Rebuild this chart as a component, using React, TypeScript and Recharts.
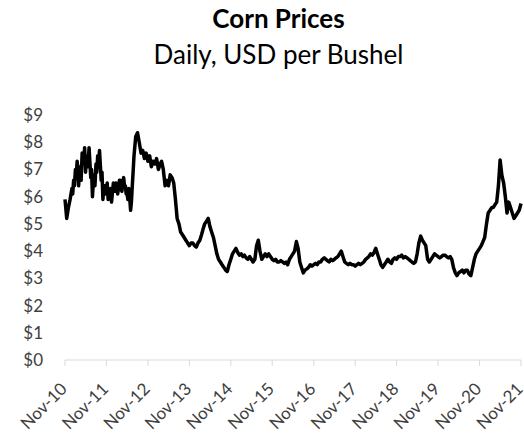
import React from "react";
import { LineChart, Line, XAxis, YAxis } from "recharts";

// readings: weekly through the choppy 2011–mid 2012 stretch, semi-monthly elsewhere
const dates = [
  "2010-11-01", "2010-11-16", "2010-12-01", "2010-12-16",
  "2011-01-01", "2011-01-08", "2011-01-16", "2011-01-23", "2011-02-01", "2011-02-08", "2011-02-16", "2011-02-23",
  "2011-03-01", "2011-03-08", "2011-03-16", "2011-03-23", "2011-04-01", "2011-04-08", "2011-04-16", "2011-04-23",
  "2011-05-01", "2011-05-08", "2011-05-16", "2011-05-23", "2011-06-01", "2011-06-08", "2011-06-16", "2011-06-23",
  "2011-07-01", "2011-07-08", "2011-07-16", "2011-07-23", "2011-08-01", "2011-08-08", "2011-08-16", "2011-08-23",
  "2011-09-01", "2011-09-08", "2011-09-16", "2011-09-23", "2011-10-01", "2011-10-08", "2011-10-16", "2011-10-23",
  "2011-11-01", "2011-11-08", "2011-11-16", "2011-11-23", "2011-12-01", "2011-12-08", "2011-12-16", "2011-12-23",
  "2012-01-01", "2012-01-08", "2012-01-16", "2012-01-23", "2012-02-01", "2012-02-08", "2012-02-16", "2012-02-23",
  "2012-03-01", "2012-03-08", "2012-03-16", "2012-03-23", "2012-04-01", "2012-04-08", "2012-04-16", "2012-04-23",
  "2012-05-01", "2012-05-08", "2012-05-16", "2012-05-23", "2012-06-01", "2012-06-08", "2012-06-16", "2012-06-23",
  "2012-07-01", "2012-07-16", "2012-08-01", "2012-08-16",
  "2012-09-01", "2012-09-16", "2012-10-01", "2012-10-16", "2012-11-01", "2012-11-16", "2012-12-01", "2012-12-16",
  "2013-01-01", "2013-01-16", "2013-02-01", "2013-02-16", "2013-03-01", "2013-03-16", "2013-04-01", "2013-04-16",
  "2013-05-01", "2013-05-16", "2013-06-01", "2013-06-16", "2013-07-01", "2013-07-16", "2013-08-01", "2013-08-16",
  "2013-09-01", "2013-09-16", "2013-10-01", "2013-10-16", "2013-11-01", "2013-11-16", "2013-12-01", "2013-12-16",
  "2014-01-01", "2014-01-16", "2014-02-01", "2014-02-16", "2014-03-01", "2014-03-16", "2014-04-01", "2014-04-16",
  "2014-05-01", "2014-05-16", "2014-06-01", "2014-06-16", "2014-07-01", "2014-07-16", "2014-08-01", "2014-08-16",
  "2014-09-01", "2014-09-16", "2014-10-01", "2014-10-16", "2014-11-01", "2014-11-16", "2014-12-01", "2014-12-16",
  "2015-01-01", "2015-01-16", "2015-02-01", "2015-02-16", "2015-03-01", "2015-03-16", "2015-04-01", "2015-04-16",
  "2015-05-01", "2015-05-16", "2015-06-01", "2015-06-16", "2015-07-01", "2015-07-16", "2015-08-01", "2015-08-16",
  "2015-09-01", "2015-09-16", "2015-10-01", "2015-10-16", "2015-11-01", "2015-11-16", "2015-12-01", "2015-12-16",
  "2016-01-01", "2016-01-16", "2016-02-01", "2016-02-16", "2016-03-01", "2016-03-16", "2016-04-01", "2016-04-16",
  "2016-05-01", "2016-05-16", "2016-06-01", "2016-06-16", "2016-07-01", "2016-07-16", "2016-08-01", "2016-08-16",
  "2016-09-01", "2016-09-16", "2016-10-01", "2016-10-16", "2016-11-01", "2016-11-16", "2016-12-01", "2016-12-16",
  "2017-01-01", "2017-01-16", "2017-02-01", "2017-02-16", "2017-03-01", "2017-03-16", "2017-04-01", "2017-04-16",
  "2017-05-01", "2017-05-16", "2017-06-01", "2017-06-16", "2017-07-01", "2017-07-16", "2017-08-01", "2017-08-16",
  "2017-09-01", "2017-09-16", "2017-10-01", "2017-10-16", "2017-11-01", "2017-11-16", "2017-12-01", "2017-12-16",
  "2018-01-01", "2018-01-16", "2018-02-01", "2018-02-16", "2018-03-01", "2018-03-16", "2018-04-01", "2018-04-16",
  "2018-05-01", "2018-05-16", "2018-06-01", "2018-06-16", "2018-07-01", "2018-07-16", "2018-08-01", "2018-08-16",
  "2018-09-01", "2018-09-16", "2018-10-01", "2018-10-16", "2018-11-01", "2018-11-16", "2018-12-01", "2018-12-16",
  "2019-01-01", "2019-01-16", "2019-02-01", "2019-02-16", "2019-03-01", "2019-03-16", "2019-04-01", "2019-04-16",
  "2019-05-01", "2019-05-16", "2019-06-01", "2019-06-16", "2019-07-01", "2019-07-16", "2019-08-01", "2019-08-16",
  "2019-09-01", "2019-09-16", "2019-10-01", "2019-10-16", "2019-11-01", "2019-11-16", "2019-12-01", "2019-12-16",
  "2020-01-01", "2020-01-16", "2020-02-01", "2020-02-16", "2020-03-01", "2020-03-16", "2020-04-01", "2020-04-16",
  "2020-05-01", "2020-05-16", "2020-06-01", "2020-06-16", "2020-07-01", "2020-07-16", "2020-08-01", "2020-08-16",
  "2020-09-01", "2020-09-16", "2020-10-01", "2020-10-16", "2020-11-01", "2020-11-16", "2020-12-01", "2020-12-16",
  "2021-01-01", "2021-01-16", "2021-02-01", "2021-02-16", "2021-03-01", "2021-03-16", "2021-04-01", "2021-04-16",
  "2021-05-01", "2021-05-16", "2021-06-01", "2021-06-16", "2021-07-01", "2021-07-16", "2021-08-01", "2021-08-16",
  "2021-09-01", "2021-09-16", "2021-10-01", "2021-10-16", "2021-11-01",
];

const prices = [
  5.9, 5.2, 5.6, 5.9,
  6.3, 6.1, 6.6, 6.4, 7.0, 6.8, 7.3, 7.0,
  6.4, 6.9, 7.1, 6.6, 7.6, 7.2, 7.3, 7.8,
  6.9, 7.4, 7.5, 7.1, 7.8, 7.3, 6.7, 7.0,
  6.0, 6.5, 6.8, 6.4, 7.2, 6.9, 7.5, 7.1,
  7.7, 7.2, 6.6, 6.9, 5.9, 6.3, 6.4, 6.1,
  6.3, 6.5, 5.9, 6.2, 6.0, 6.3, 5.8, 6.1,
  6.5, 6.2, 6.2, 6.5, 6.4, 6.1, 6.3, 6.6,
  6.6, 6.3, 6.2, 6.5, 6.7, 6.4, 6.4, 6.1,
  6.1, 5.9, 6.3, 6.0, 5.5, 5.8, 6.4, 6.9,
  7.5, 8.2, 8.35, 8.0,
  7.6, 7.7, 7.4, 7.6, 7.3, 7.5, 7.1, 7.3,
  7.2, 7.4, 7.0, 7.2, 7.3, 7.0, 6.4, 6.6, 6.4, 6.8, 6.7, 6.5, 5.9, 5.2, 5.0, 4.7, 4.6, 4.5, 4.4, 4.3, 4.2, 4.3, 4.3, 4.2,
  4.15, 4.3, 4.4, 4.6, 4.8, 5.0, 5.1, 5.2, 4.9, 4.7, 4.5, 4.2, 3.9, 3.7, 3.6, 3.5, 3.4, 3.3, 3.25, 3.5, 3.7, 3.9, 4.0, 4.1,
  3.95, 3.85, 3.9, 3.8, 3.85, 3.75, 3.7, 3.8, 3.7, 3.6, 3.7, 4.2, 4.4, 4.0, 3.7, 3.8, 3.9, 3.8, 3.9, 3.8, 3.7, 3.65, 3.7, 3.6,
  3.6, 3.65, 3.6, 3.55, 3.6, 3.5, 3.7, 3.8, 3.9, 4.0, 4.35, 4.1, 3.6, 3.4, 3.2, 3.3, 3.35, 3.4, 3.5, 3.45, 3.5, 3.55, 3.5, 3.6,
  3.6, 3.7, 3.75, 3.7, 3.65, 3.6, 3.7, 3.65, 3.7, 3.75, 3.8, 3.9, 4.0, 3.8, 3.6, 3.55, 3.5, 3.55, 3.5, 3.5, 3.45, 3.5, 3.55, 3.5,
  3.55, 3.6, 3.7, 3.75, 3.8, 3.9, 3.85, 3.95, 4.1, 3.9, 3.7, 3.5, 3.4, 3.5, 3.6, 3.7, 3.6, 3.55, 3.7, 3.75, 3.7, 3.8, 3.8, 3.85,
  3.75, 3.8, 3.75, 3.7, 3.65, 3.6, 3.55, 3.6, 3.9, 4.3, 4.55, 4.4, 4.3, 4.2, 3.7, 3.6, 3.7, 3.8, 3.9, 3.85, 3.8, 3.75, 3.8, 3.85,
  3.85, 3.8, 3.75, 3.8, 3.7, 3.4, 3.2, 3.1, 3.2, 3.25, 3.3, 3.2, 3.3, 3.3, 3.15, 3.1, 3.4, 3.7, 3.9, 4.0, 4.1, 4.2, 4.35, 4.5,
  5.0, 5.4, 5.5, 5.6, 5.6, 5.7, 5.8, 6.4, 7.35, 6.8, 6.5, 6.0, 5.4, 5.8, 5.6, 5.4, 5.2, 5.3, 5.4, 5.5, 5.75,
];

const tickDates = [
  "2010-11-01", "2011-11-01", "2012-11-01", "2013-11-01", "2014-11-01", "2015-11-01",
  "2016-11-01", "2017-11-01", "2018-11-01", "2019-11-01", "2020-11-01", "2021-11-01",
];
const tickLabels = [
  "Nov-10", "Nov-11", "Nov-12", "Nov-13", "Nov-14", "Nov-15",
  "Nov-16", "Nov-17", "Nov-18", "Nov-19", "Nov-20", "Nov-21",
];
const yTicks = [0, 1, 2, 3, 4, 5, 6, 7, 8, 9];
const yTickLabels = ["$0", "$1", "$2", "$3", "$4", "$5", "$6", "$7", "$8", "$9"];

const toTime = (d: string) => new Date(d + "T00:00:00Z").getTime();

const data = dates.map((d, i) => ({ t: toTime(d), price: prices[i] }));
const xTicks = tickDates.map(toTime);

const FONT = "Lato, 'Open Sans', sans-serif";
const TEXT = "#404040";
const AXIS = "#d9d9d9";

function XTick(props: any) {
  const { x, y, payload } = props;
  const idx = xTicks.indexOf(payload.value);
  const ax = x + 3;
  const ay = y + 22;
  return (
    <text
      x={ax}
      y={ay}
      textAnchor="end"
      fill={TEXT}
      fontSize={17}
      fontFamily={FONT}
      transform={`rotate(-45 ${ax} ${ay})`}
    >
      {tickLabels[idx]}
    </text>
  );
}

export default function App() {
  return (
    <div style={{ position: "absolute", left: 0, top: 0, width: 524, height: 442, background: "#fff" }}>
      <svg width={524} height={442} style={{ position: "absolute", left: 0, top: 0 }}>
        <text x={278.5} y={28} textAnchor="middle" fontFamily={FONT} fontWeight={700} fontSize={26} fill="#000">
          Corn Prices
        </text>
        <text x={278.5} y={64} textAnchor="middle" fontFamily={FONT} fontSize={26} fill="#000">
          Daily, USD per Bushel
        </text>
      </svg>
      <div style={{ position: "absolute", left: 0, top: 0 }}>
        <LineChart width={524} height={442} data={data} margin={{ top: 115, right: 3, left: 0, bottom: 0 }}>
          <XAxis
            dataKey="t"
            type="number"
            domain={[xTicks[0], xTicks[xTicks.length - 1]]}
            ticks={xTicks}
            interval={0}
            height={82}
            axisLine={{ stroke: AXIS, strokeWidth: 1 }}
            tickLine={{ stroke: AXIS, strokeWidth: 1 }}
            tickSize={6}
            tick={<XTick />}
          />
          <YAxis
            type="number"
            domain={[0, 9]}
            ticks={yTicks}
            interval={0}
            width={65}
            axisLine={false}
            tickLine={false}
            tickSize={0}
            tickMargin={22}
            tick={{ fill: TEXT, fontSize: 17, fontFamily: FONT }}
            tickFormatter={(v: number) => yTickLabels[yTicks.indexOf(v)]}
          />
          <Line
            type="linear"
            dataKey="price"
            stroke="#000"
            strokeWidth={3.5}
            strokeLinejoin="round"
            dot={false}
            isAnimationActive={false}
          />
        </LineChart>
      </div>
    </div>
  );
}
